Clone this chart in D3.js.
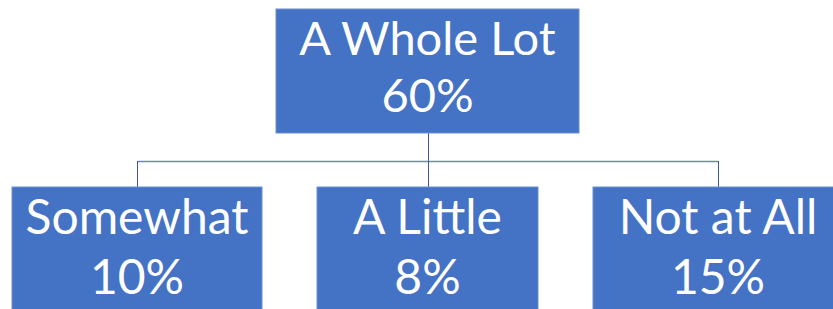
<!DOCTYPE html>
<html>
<head>
<meta charset="utf-8">
<script src="https://cdn.jsdelivr.net/npm/d3@7"></script>
<style>
  html, body { margin: 0; padding: 0; background: #fff; }
  svg { display: block; }
</style>
</head>
<body>
<div id="chart"></div>
<script>
// data
var rootLabel = "A Whole Lot";
var rootValue = 60;
var childLabels = ["Somewhat", "A Little", "Not at All"];
var childValues = [10, 8, 15];

// size of the picture
var width = 833,
    height = 309;

// box sizes (middle box is a bit narrower in the original)
var rootBox = {w: 303, h: 124};
var childBoxW = [250, 221, 250];
var childBoxH = 130;

var svg = d3.select("#chart")
    .append("svg")
    .attr("width", width)
    .attr("height", height);

// build the hierarchy: one root, three children
var treeData = {
    name: rootLabel, value: rootValue,
    children: childLabels.map(function (d, i) {
        return {name: d, value: childValues[i], idx: i};
    })
};
var root = d3.hierarchy(treeData);

// horizontal placement of the children, root sits in the middle
var x = d3.scalePoint().domain(childLabels).range([137, 718]);
root.children.forEach(function (d) { d.x = x(d.data.name); });
root.x = (x(childLabels[0]) + x(childLabels[childLabels.length - 1])) / 2;

var y = d3.scaleOrdinal().domain([0, 1]).range([9, 187]);
var elbowY = 161;

// connector lines
var linkColor = "#3d5b98";
svg.append("line")
    .attr("x1", Math.round(root.x) + 0.5)
    .attr("x2", Math.round(root.x) + 0.5)
    .attr("y1", y(0) + rootBox.h)
    .attr("y2", elbowY)
    .attr("stroke", linkColor);

var kids = root.children;
svg.append("line")
    .attr("x1", Math.round(kids[0].x) + 0.5)
    .attr("x2", Math.round(kids[kids.length - 1].x) + 0.5)
    .attr("y1", elbowY + 0.5)
    .attr("y2", elbowY + 0.5)
    .attr("stroke", "#6f86b8")
    .attr("stroke-width", 1.3);

svg.selectAll("line.down")
    .data(kids)
    .enter()
    .append("line")
    .attr("class", "down")
    .attr("x1", function (d) { return Math.round(d.x) + 0.5; })
    .attr("x2", function (d) { return Math.round(d.x) + 0.5; })
    .attr("y1", elbowY)
    .attr("y2", y(1))
    .attr("stroke", linkColor);

// boxes
function boxW(d) { return d.depth === 0 ? rootBox.w : childBoxW[d.data.idx]; }
function boxH(d) { return d.depth === 0 ? rootBox.h : childBoxH; }
function fontSize(d) { return d.depth === 0 ? "47px" : "48px"; }

var node = svg.selectAll("g.node")
    .data(root.descendants())
    .enter()
    .append("g")
    .attr("class", "node")
    .attr("transform", function (d) {
        return "translate(" + d.x + "," + y(d.depth) + ")";
    });

node.append("rect")
    .attr("x", function (d) { return -boxW(d) / 2; })
    .attr("y", 0)
    .attr("width", boxW)
    .attr("height", boxH)
    .attr("fill", "#4472c4")
    .attr("stroke", "#6d8fd1")
    .attr("stroke-width", 1);

node.append("text")
    .attr("text-anchor", "middle")
    .attr("y", function (d) { return d.depth === 0 ? 46 : 47; })
    .style("font-family", "Lato, 'Open Sans', sans-serif")
    .style("font-size", fontSize)
    .style("fill", "white")
    .text(function (d) { return d.data.name; });

node.append("text")
    .attr("text-anchor", "middle")
    .attr("y", function (d) { return d.depth === 0 ? 103 : 107; })
    .style("font-family", "Lato, 'Open Sans', sans-serif")
    .style("font-size", fontSize)
    .style("fill", "white")
    .text(function (d) { return d.data.value + "%"; });
</script>
</body>
</html>
